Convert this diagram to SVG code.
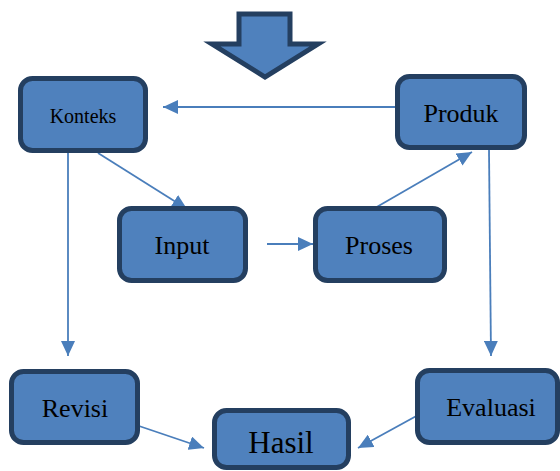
<svg xmlns="http://www.w3.org/2000/svg" width="560" height="471" viewBox="0 0 560 471">
<defs>
<style>
.box{fill:#4F81BD;stroke:#243F60;stroke-width:5}
.lbl{font-family:"Liberation Serif","Times New Roman",serif;fill:#000;text-anchor:middle}
.con{stroke:#4A7EBB;stroke-width:1.8;fill:none;marker-end:url(#ah)}
</style>
<marker id="ah" markerUnits="userSpaceOnUse" markerWidth="16" markerHeight="14" refX="15" refY="7" orient="auto">
<path d="M0,0 L15,7 L0,14 Z" fill="#4A7EBB"/>
</marker>
</defs>
<rect width="560" height="471" fill="#fff"/>
<g id="bigarrow">
<polygon points="239,14 290,14 290,44 318,44 265,77 212,44 239,44" fill="#4F81BD" stroke="#243F60" stroke-width="5" stroke-linejoin="miter"/>
</g>
<g id="connectors">
<line class="con" x1="395" y1="107" x2="163" y2="107"/>
<line class="con" x1="98" y1="153" x2="187" y2="209"/>
<line class="con" x1="68" y1="153" x2="68" y2="356"/>
<line class="con" x1="267" y1="244" x2="313" y2="244"/>
<line class="con" x1="375" y1="208" x2="472" y2="152"/>
<line class="con" x1="489" y1="150" x2="491" y2="356"/>
<line class="con" x1="139" y1="426" x2="204" y2="448"/>
<line class="con" x1="420" y1="414" x2="358" y2="448"/>
</g>
<g id="konteks">
<rect class="box" x="20.5" y="78.5" width="125" height="72" rx="12"/>
<text class="lbl" x="83" y="123" font-size="20">Konteks</text>
</g>
<g id="produk">
<rect class="box" x="397.5" y="76.5" width="127" height="71" rx="12"/>
<text class="lbl" x="461" y="122" font-size="26">Produk</text>
</g>
<g id="input">
<rect class="box" x="119.5" y="208.5" width="126" height="72" rx="12"/>
<text class="lbl" x="182" y="254" font-size="26">Input</text>
</g>
<g id="proses">
<rect class="box" x="315.5" y="208.5" width="129" height="72" rx="12"/>
<text class="lbl" x="379" y="254" font-size="26">Proses</text>
</g>
<g id="revisi">
<rect class="box" x="11.5" y="371.5" width="126" height="71" rx="12"/>
<text class="lbl" x="75" y="417" font-size="26">Revisi</text>
</g>
<g id="hasil">
<rect class="box" x="214.5" y="410.5" width="134" height="57" rx="12"/>
<text class="lbl" x="281" y="453" font-size="31">Hasil</text>
</g>
<g id="evaluasi">
<rect class="box" x="417.5" y="370.5" width="140" height="72" rx="12"/>
<text class="lbl" x="491" y="416" font-size="26">Evaluasi</text>
</g>
</svg>
